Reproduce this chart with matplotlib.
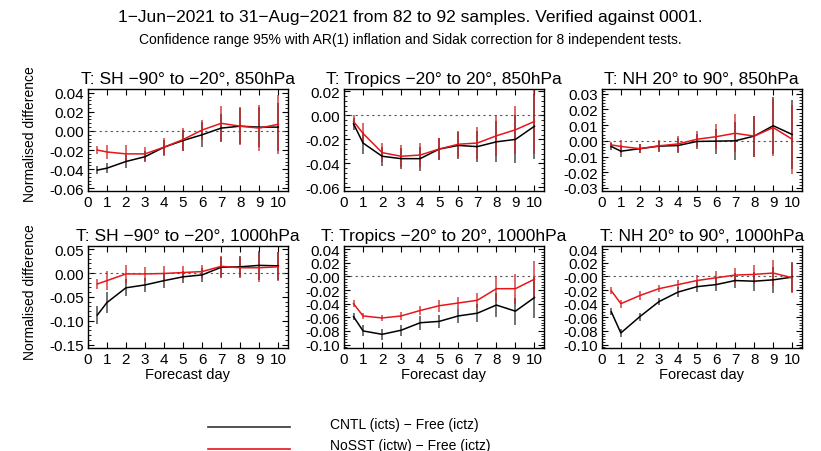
import numpy as np
import matplotlib
matplotlib.use('Agg')
import matplotlib.pyplot as plt
from matplotlib.ticker import AutoMinorLocator, MultipleLocator, FormatStrFormatter
from matplotlib.lines import Line2D

plt.rcParams['font.family'] = ['Liberation Sans', 'DejaVu Sans']

days = [0.5, 1, 2, 3, 4, 5, 6, 7, 8, 9, 10]

titles = ['T: SH \u221290\u00b0 to \u221220\u00b0, 850hPa',
          'T: Tropics \u221220\u00b0 to 20\u00b0, 850hPa',
          'T: NH 20\u00b0 to 90\u00b0, 850hPa',
          'T: SH \u221290\u00b0 to \u221220\u00b0, 1000hPa',
          'T: Tropics \u221220\u00b0 to 20\u00b0, 1000hPa',
          'T: NH 20\u00b0 to 90\u00b0, 1000hPa']

# CNTL (icts) - Free (ictz)
cntl = [
    [-0.041, -0.039, -0.032, -0.027, -0.017, -0.010, -0.004, 0.003, 0.005, 0.004, 0.004],
    [-0.007, -0.023, -0.034, -0.036, -0.036, -0.028, -0.025, -0.026, -0.022, -0.020, -0.009],
    [-0.0036, -0.0066, -0.005, -0.0034, -0.003, -0.0004, -0.0002, 0.000, 0.003, 0.0096, 0.004],
    [-0.088, -0.062, -0.031, -0.025, -0.016, -0.008, -0.004, 0.012, 0.013, 0.016, 0.015],
    [-0.059, -0.080, -0.085, -0.079, -0.068, -0.066, -0.058, -0.054, -0.042, -0.051, -0.031],
    [-0.052, -0.083, -0.059, -0.037, -0.023, -0.015, -0.012, -0.006, -0.007, -0.005, -0.001],
]
cntl_err = [
    [0.004, 0.005, 0.007, 0.006, 0.008, 0.011, 0.013, 0.015, 0.019, 0.021, 0.025],
    [0.005, 0.009, 0.008, 0.009, 0.010, 0.009, 0.011, 0.013, 0.017, 0.020, 0.027],
    [0.002, 0.004, 0.003, 0.0035, 0.005, 0.005, 0.008, 0.012, 0.013, 0.018, 0.022],
    [0.018, 0.022, 0.018, 0.015, 0.015, 0.013, 0.014, 0.022, 0.022, 0.030, 0.030],
    [0.005, 0.008, 0.008, 0.008, 0.010, 0.010, 0.010, 0.013, 0.017, 0.020, 0.030],
    [0.005, 0.006, 0.006, 0.005, 0.007, 0.008, 0.010, 0.011, 0.014, 0.019, 0.022],
]

# NoSST (ictw) - Free (ictz)
nosst = [
    [-0.020, -0.022, -0.024, -0.024, -0.017, -0.009, 0.001, 0.008, 0.005, 0.003, 0.007],
    [-0.005, -0.015, -0.031, -0.034, -0.033, -0.028, -0.024, -0.023, -0.017, -0.012, -0.005],
    [-0.0026, -0.0036, -0.005, -0.0032, -0.002, 0.001, 0.0026, 0.0048, 0.003, 0.0084, 0.001],
    [-0.023, -0.016, -0.002, -0.002, -0.001, 0.001, 0.003, 0.014, 0.011, 0.011, 0.013],
    [-0.040, -0.058, -0.061, -0.058, -0.050, -0.043, -0.039, -0.035, -0.018, -0.018, -0.004],
    [-0.021, -0.040, -0.028, -0.018, -0.012, -0.006, -0.002, 0.002, 0.003, 0.005, -0.002],
]
nosst_err = [
    [0.004, 0.007, 0.009, 0.007, 0.0095, 0.012, 0.010, 0.018, 0.020, 0.024, 0.031],
    [0.005, 0.009, 0.008, 0.009, 0.010, 0.009, 0.011, 0.013, 0.017, 0.020, 0.027],
    [0.002, 0.004, 0.003, 0.0035, 0.005, 0.005, 0.008, 0.012, 0.013, 0.018, 0.022],
    [0.011, 0.020, 0.018, 0.015, 0.015, 0.013, 0.014, 0.022, 0.022, 0.030, 0.030],
    [0.005, 0.005, 0.005, 0.006, 0.007, 0.009, 0.009, 0.011, 0.018, 0.022, 0.027],
    [0.005, 0.006, 0.006, 0.005, 0.007, 0.008, 0.010, 0.011, 0.014, 0.019, 0.022],
]

ylims = [(-0.063, 0.044), (-0.063, 0.022), (-0.032, 0.033),
         (-0.157, 0.057), (-0.105, 0.045), (-0.105, 0.045)]
ysteps = [0.02, 0.02, 0.01, 0.05, 0.02, 0.02]

fig = plt.figure(figsize=(8.21, 4.52), dpi=100)

lefts = [0.107, 0.419, 0.733]
bottoms = [0.575, 0.228]
w, h = 0.2436, 0.226

for i in range(6):
    r, c = divmod(i, 3)
    ax = fig.add_axes([lefts[c], bottoms[r], w, h])
    ax.axhline(0, color='#555555', ls=(0, (2, 3)), lw=0.8)
    ax.errorbar(days, cntl[i], yerr=cntl_err[i], color='black', lw=1.1,
                ecolor=(0.2, 0.2, 0.2, 0.75), elinewidth=1.3, capsize=0)
    ax.errorbar(days, nosst[i], yerr=nosst_err[i], color='#e8161b', lw=1.1,
                ecolor=(0.8, 0.1, 0.1, 0.7), elinewidth=1.3, capsize=0)
    ax.set_xlim(0, 10.5)
    ax.set_ylim(*ylims[i])
    ax.xaxis.set_major_locator(MultipleLocator(1))
    ax.yaxis.set_major_locator(MultipleLocator(ysteps[i]))
    ax.yaxis.set_minor_locator(AutoMinorLocator(5))
    ax.yaxis.set_major_formatter(FormatStrFormatter('%.2f'))
    ax.tick_params(which='both', direction='in', top=True, right=True,
                   labelsize=11, pad=3)
    ax.tick_params(which='major', length=4, width=0.8)
    ax.tick_params(which='minor', length=2, width=0.6)
    for s in ax.spines.values():
        s.set_linewidth(1.0)
    ax.set_title(titles[i], fontsize=12.5, pad=4)
    if r == 1:
        ax.set_xlabel('Forecast day', fontsize=10.5, labelpad=1)

for yc in [134, 292]:
    fig.text(30 / 821, 1 - yc / 452, 'Normalised difference', rotation=90,
             ha='center', va='center', fontsize=10)

fig.text(0.5, 0.962, '1\u2212Jun\u22122021 to 31\u2212Aug\u22122021 from 82 to 92 samples. Verified against 0001.',
         ha='center', va='center', fontsize=12.5)
fig.text(0.5, 0.912, 'Confidence range 95% with AR(1) inflation and Sidak correction for 8 independent tests.',
         ha='center', va='center', fontsize=10)

# legend
fig.add_artist(Line2D([208 / 821, 290 / 821], [1 - 428 / 452] * 2, color='#333333', lw=1.2))
fig.add_artist(Line2D([208 / 821, 290 / 821], [1 - 450 / 452] * 2, color='#e8161b', lw=1.2))
fig.text(330 / 821, 1 - 425 / 452, 'CNTL (icts) \u2212 Free (ictz)', ha='left', va='center', fontsize=10)
fig.text(330 / 821, 1 - 446 / 452, 'NoSST (ictw) \u2212 Free (ictz)', ha='left', va='center', fontsize=10)

fig.savefig('out.png', dpi=100)
